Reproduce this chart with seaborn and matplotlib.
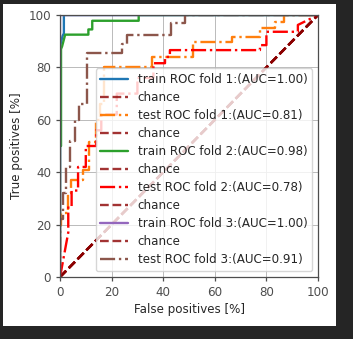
import matplotlib
matplotlib.use("Agg")
import matplotlib.pyplot as plt
import seaborn as sns
import pandas as pd
from matplotlib.patches import Rectangle

# ---- data ----
train1_fpr = [0, 0, 1.0, 1.5, 1.5, 100]
train1_tpr = [0, 88, 92, 93, 100, 100]
train1_label = "train ROC fold 1:(AUC=1.00)"

test1_fpr = [0, 0, 0.4, 0.4, 3.2, 3.2, 4.3, 4.3, 8.8, 8.8, 11.4, 11.4, 14, 14, 15.5, 15.5, 17, 17,
             35.5, 35.5, 51.5, 51.5, 66.5, 66.5, 77.5, 77.5, 83.5, 83.5, 87, 87, 100]
test1_tpr = [0, 20, 20, 24.4, 24.4, 32, 32, 37, 37, 41, 41, 51.6, 51.6, 60, 60, 66, 66, 80.2,
             80.2, 84, 84, 89.8, 89.8, 91.7, 91.7, 94.9, 94.9, 97.4, 97.4, 100, 100]
test1_label = "test ROC fold 1:(AUC=0.81)"

train2_fpr = [0, 0, 0.4, 0.4, 0.8, 2, 11, 11, 12.5, 12.5, 30.5, 30.5, 100]
train2_tpr = [0, 50, 50, 87, 88, 92.5, 92.5, 94.5, 94.5, 97.8, 97.8, 100, 100]
train2_label = "train ROC fold 2:(AUC=0.98)"

test2_fpr = [0, 0.4, 3.2, 3.2, 4.5, 4.5, 7, 7, 10, 10, 14, 14, 16, 16, 22, 22, 30, 30,
             36.2, 36.2, 40.7, 40.7, 42.6, 42.6, 77.5, 77.5, 80, 80, 92.2, 92.2, 100]
test2_tpr = [0, 2, 17, 27, 27, 33, 33, 42, 42, 50, 50, 56, 56, 62, 62, 70, 70, 76, 76,
             81.6, 81.6, 84, 84, 86.6, 86.6, 88.5, 88.5, 93.6, 93.6, 96.2, 100]
test2_label = "test ROC fold 2:(AUC=0.78)"

train3_fpr = [0, 0, 100]
train3_tpr = [0, 100, 100]
train3_label = "train ROC fold 3:(AUC=1.00)"

test3_fpr = [0, 0, 1, 1, 2.5, 2.5, 4, 4, 6, 6, 7.5, 7.5, 10.3, 10.3, 24, 24, 26, 26,
             43, 43, 48.5, 48.5, 100]
test3_tpr = [0, 22, 22, 32, 32, 42, 42, 52, 52, 60, 60, 66, 66, 85.5, 85.5, 89, 89, 92.5,
             92.5, 96.8, 96.8, 100, 100]
test3_label = "test ROC fold 3:(AUC=0.91)"

chance_x = [0, 100]
chance_y = [0, 100]
chance_label = "chance"

ticks = [0, 20, 40, 60, 80, 100]
xlabel = "False positives [%]"
ylabel = "True positives [%]"

# ---- style ----
FS = 8.6
sns.set_theme(style="ticks", rc={
    "axes.grid": True, "grid.color": "#b0b0b0", "grid.linewidth": 0.6,
    "axes.edgecolor": "0.3", "axes.linewidth": 0.9,
    "xtick.color": "0.3", "ytick.color": "0.3",
    "xtick.major.size": 3.0, "ytick.major.size": 3.0,
    "xtick.major.width": 0.9, "ytick.major.width": 0.9,
    "font.size": FS, "axes.labelsize": FS, "xtick.labelsize": FS, "ytick.labelsize": FS,
    "legend.fontsize": FS, "text.color": "0.15", "axes.labelcolor": "0.15",
})
plt.rcParams["font.family"] = ["DejaVu Sans"]

fig = plt.figure(figsize=(3.53, 3.39), dpi=100, facecolor="#252525")
bg = Rectangle((3 / 353, 1 - 326 / 339), 333 / 353, 322 / 339,
               transform=fig.transFigure, facecolor="white", edgecolor="none", zorder=-10)
fig.add_artist(bg)
ax = fig.add_axes([60 / 353, 1 - 277 / 339, 258 / 353, 262 / 339])
ax.set_zorder(1)

LW = 1.7

def roc(x, y, label, color, ls):
    df = pd.DataFrame({"fpr": x, "tpr": y})
    sns.lineplot(data=df, x="fpr", y="tpr", ax=ax, sort=False, estimator=None,
                 color=color, linestyle=ls, linewidth=LW, label=label)

def chance():
    df = pd.DataFrame({"fpr": chance_x, "tpr": chance_y})
    sns.lineplot(data=df, x="fpr", y="tpr", ax=ax, sort=False, estimator=None,
                 color="darkred", linestyle="--", linewidth=LW, alpha=0.8, label=chance_label)

roc(train1_fpr, train1_tpr, train1_label, "#1f77b4", "-")
chance()
roc(test1_fpr, test1_tpr, test1_label, "#ff7f0e", "-.")
chance()
roc(train2_fpr, train2_tpr, train2_label, "#2ca02c", "-")
chance()
roc(test2_fpr, test2_tpr, test2_label, "red", "-.")
chance()
roc(train3_fpr, train3_tpr, train3_label, "#9467bd", "-")
chance()
roc(test3_fpr, test3_tpr, test3_label, "#8c564b", "-.")

ax.set_xlim(0, 100)
ax.set_ylim(0, 100)
ax.set_xticks(ticks)
ax.set_yticks(ticks)
ax.set_xlabel(xlabel, labelpad=3)
ax.set_ylabel(ylabel)
for s in ax.spines.values():
    s.set_visible(True)
ax.legend(loc="lower right", framealpha=0.8, handlelength=2.3, labelspacing=0.42,
          edgecolor="0.8", fancybox=True)

fig.savefig("out.png", dpi=100, facecolor=fig.get_facecolor())
